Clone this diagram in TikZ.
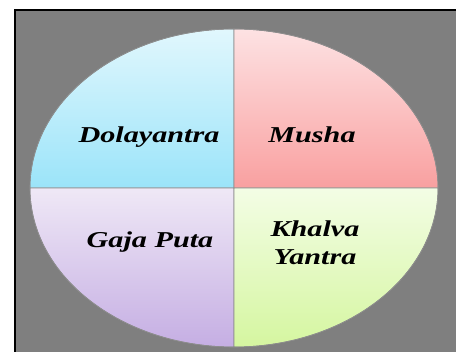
\documentclass[tikz,border=0pt]{standalone}
\usepackage{fontspec}
\newfontfamily\quadfont[FakeStretch=1.33]{Liberation Serif}
\definecolor{PanelGray}{RGB}{127,127,127}
\definecolor{DolaTop}{RGB}{225,247,253}
\definecolor{DolaBottom}{RGB}{155,228,249}
\definecolor{MushaTop}{RGB}{253,226,227}
\definecolor{MushaBottom}{RGB}{249,160,160}
\definecolor{GajaTop}{RGB}{239,232,246}
\definecolor{GajaBottom}{RGB}{197,174,227}
\definecolor{KhalvaTop}{RGB}{243,253,229}
\definecolor{KhalvaBottom}{RGB}{213,246,160}
\usetikzlibrary{positioning}

\begin{document}
\begin{tikzpicture}[
    x=1pt,
    y=1pt,
%
    panel/.style={
        fill=PanelGray,
        draw=black,
        line width=2pt
    },
%
    quadrant/.style={
        draw=black!45,
        line width=0.6pt
    },
%
    caption/.style={
        font=\quadfont\bfseries\itshape\fontsize{22.7}{28}\selectfont,
        text=black,
        align=center,
        inner sep=0pt
    }
]
\useasboundingbox (0,0) rectangle (456,-352);
%
% Gray panel
%
\draw[panel] (15,-10) rectangle (470,-370);
%
% Ellipse in four quarters
%
\coordinate (centre) at (234,-188);
%
\path[quadrant, top color=DolaTop, bottom color=DolaBottom]
    (centre) -- ++(-204,0) arc (180:90:204 and 159) -- cycle;
\path[quadrant, top color=MushaTop, bottom color=MushaBottom]
    (centre) -- ++(0,159) arc (90:0:204 and 159) -- cycle;
\path[quadrant, top color=GajaTop, bottom color=GajaBottom]
    (centre) -- ++(-204,0) arc (180:270:204 and 159) -- cycle;
\path[quadrant, top color=KhalvaTop, bottom color=KhalvaBottom]
    (centre) -- ++(0,-159) arc (270:360:204 and 159) -- cycle;
\draw[quadrant] (centre) ellipse (204 and 159);
%
% Labels
%
\node[caption, anchor=base] (dola) at (149,-143) {Dolayantra};
%
\node[caption, anchor=base] (musha) at (312,-143) {Musha};
%
\node[caption, anchor=base] (gaja) at (150,-248) {Gaja Puta};
%
\node[caption] (khalva) at (315,-243) {
    Khalva\\
    Yantra
};
%
\end{tikzpicture}
\end{document}
